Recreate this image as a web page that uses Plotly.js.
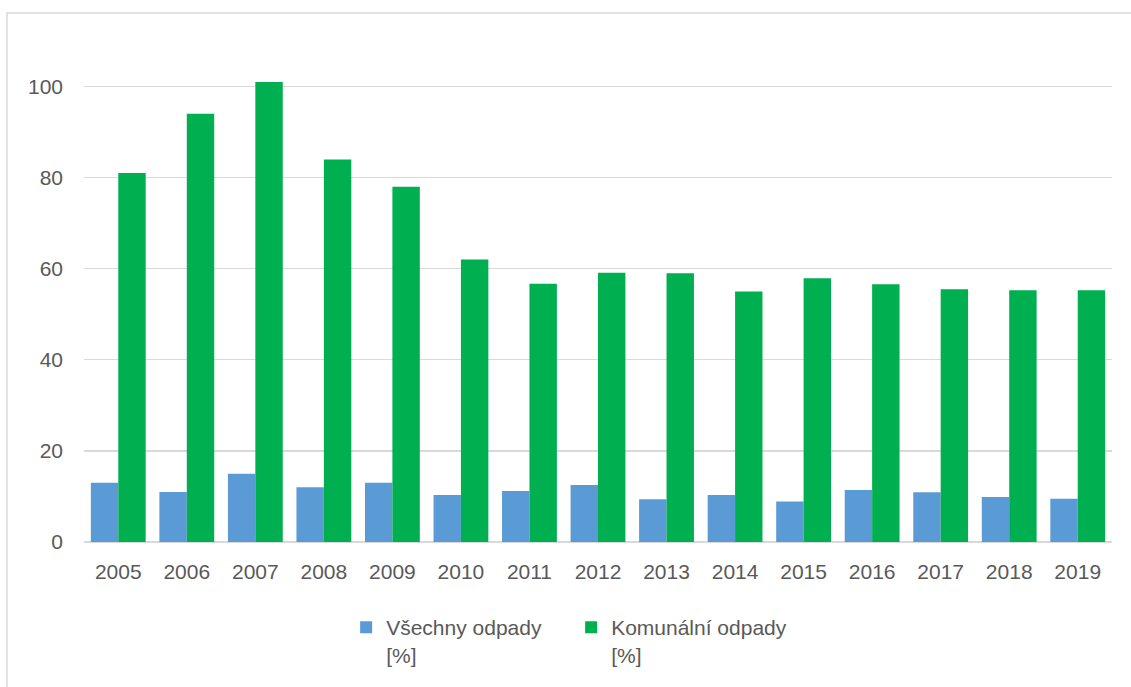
<!DOCTYPE html>
<html>
<head>
<meta charset="utf-8">
<script src="https://cdn.plot.ly/plotly-3.0.1.min.js"></script>
<style>html,body{margin:0;padding:0;background:#fff;}#chart{width:1131px;height:687px;}</style>
</head>
<body>
<div id="chart"></div>
<script>
const years = ['2005','2006','2007','2008','2009','2010','2011','2012','2013','2014','2015','2016','2017','2018','2019'];
const vsechny = [13, 11, 15, 12, 13, 10.3, 11.2, 12.5, 9.4, 10.3, 8.9, 11.4, 10.9, 9.9, 9.5];
const komunalni = [81, 94, 101, 84, 78, 62, 56.7, 59.1, 59, 55, 57.9, 56.6, 55.5, 55.3, 55.3];
const seriesNames = ['Všechny odpady<br>[%]', 'Komunální odpady<br>[%]'];
const yTicks = [0, 20, 40, 60, 80, 100];

const fontFam = '"Liberation Sans", Arial, sans-serif';
const traces = [
  {type:'bar', name: seriesNames[0], x: years, y: vsechny, marker:{color:'#5B9BD5'}, hoverinfo:'x+y'},
  {type:'bar', name: seriesNames[1], x: years, y: komunalni, marker:{color:'#00B050'}, hoverinfo:'x+y'}
];
const layout = {
  width:1131, height:687,
  margin:{l:84, r:19, t:41, b:145},
  paper_bgcolor:'#ffffff', plot_bgcolor:'#ffffff',
  barmode:'group', bargap:0.2, bargroupgap:0,
  font:{family:fontFam, color:'#595959', size:21},
  xaxis:{type:'category', showgrid:false, zeroline:false, showline:false, ticks:'',
         tickfont:{size:21, color:'#595959'}, ticklabelstandoff:15, fixedrange:true},
  yaxis:{range:[0,110], tickvals:yTicks, ticktext:yTicks.map(String), showgrid:true, gridcolor:'#d9d9d9', gridwidth:1.3,
         zeroline:true, zerolinecolor:'#d9d9d9', zerolinewidth:1.5, showline:false, ticks:'',
         tickfont:{size:21, color:'#595959'}, ticklabelstandoff:20, fixedrange:true},
  showlegend:true,
  legend:{orientation:'h', x:0.255, xanchor:'left', y:-0.13, yanchor:'top', valign:'top',
          font:{size:21, color:'#595959'}, entrywidth:180, entrywidthmode:'pixels', traceorder:'normal', bgcolor:'rgba(0,0,0,0)'},
  shapes:[{type:'rect', xref:'paper', yref:'paper', x0:-0.0749, x1:1.05, y0:-0.4, y1:1.0559,
           line:{color:'#d9d9d9', width:1.5}, fillcolor:'rgba(0,0,0,0)', layer:'below'}]
};
Plotly.newPlot('chart', traces, layout, {displayModeBar:false, staticPlot:true});
</script>
</body>
</html>
